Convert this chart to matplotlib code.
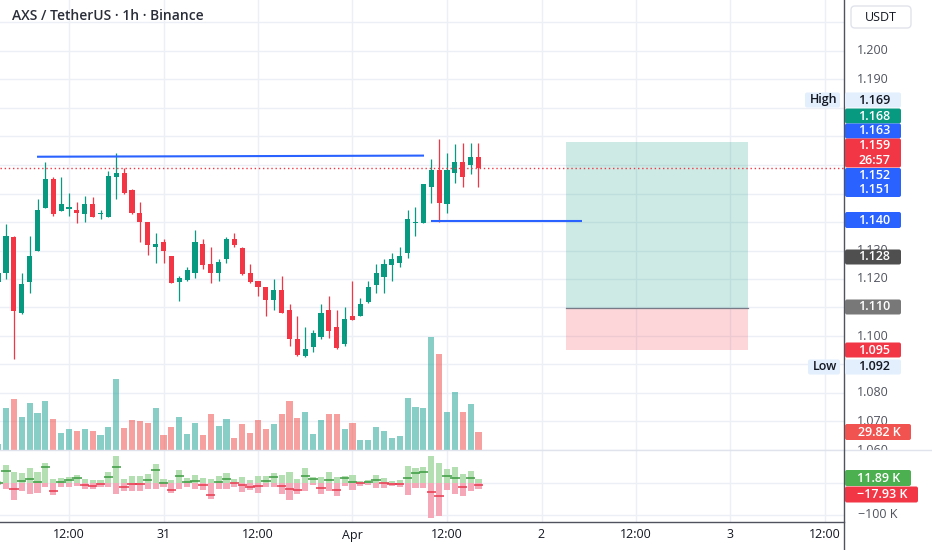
import matplotlib
matplotlib.use("Agg")
import matplotlib.pyplot as plt
import matplotlib.patches as mpatches
from matplotlib.transforms import blended_transform_factory
import numpy as np

plt.rcParams['font.family'] = ['Open Sans', 'DejaVu Sans']

# ---------------- data ----------------
# candle time in hours relative to 30 Mar 12:00 (1h candles)
hours = list(range(-9, 53))
opens = [1.1191, 1.1220, 1.1348, 1.1080, 1.1191, 1.1299, 1.1450, 1.1550, 1.1439, 1.1447,
         1.1442, 1.1428, 1.1462, 1.1428, 1.1419, 1.1557, 1.1571, 1.1512, 1.1431, 1.1399,
         1.1311, 1.1329, 1.1280, 1.1191, 1.1197, 1.1220, 1.1323, 1.1253, 1.1220, 1.1270,
         1.1340, 1.1310, 1.1220, 1.1193, 1.1172, 1.1126, 1.1161, 1.1091, 1.0989, 1.0930,
         1.0960, 1.0995, 1.1091, 1.1031, 1.0972, 1.1070, 1.1070, 1.1120, 1.1179, 1.1208,
         1.1249, 1.1257, 1.1290, 1.1398, 1.1398, 1.1522, 1.1582, 1.1463, 1.1571, 1.1609,
         1.1600, 1.1629]
highs = [1.1228, 1.1393, 1.1351, 1.1222, 1.1351, 1.1480, 1.1609, 1.1559, 1.1559, 1.1501,
         1.1469, 1.1491, 1.1489, 1.1442, 1.1580, 1.1641, 1.1588, 1.1516, 1.1469, 1.1400,
         1.1360, 1.1340, 1.1281, 1.1211, 1.1243, 1.1372, 1.1340, 1.1311, 1.1270, 1.1348,
         1.1360, 1.1311, 1.1253, 1.1194, 1.1173, 1.1200, 1.1211, 1.1112, 1.1071, 1.1031,
         1.1021, 1.1112, 1.1140, 1.1091, 1.1103, 1.1193, 1.1132, 1.1193, 1.1252, 1.1270,
         1.1290, 1.1311, 1.1442, 1.1452, 1.1532, 1.1620, 1.1690, 1.1641, 1.1673, 1.1678,
         1.1678, 1.1678]
lows = [1.1186, 1.1199, 1.0919, 1.1078, 1.1152, 1.1298, 1.1449, 1.1421, 1.1438, 1.1421,
        1.1395, 1.1401, 1.1418, 1.1412, 1.1418, 1.1482, 1.1500, 1.1428, 1.1331, 1.1284,
        1.1255, 1.1255, 1.1185, 1.1124, 1.1194, 1.1202, 1.1234, 1.1185, 1.1194, 1.1255,
        1.1313, 1.1214, 1.1185, 1.1140, 1.1071, 1.1091, 1.1079, 1.0965, 1.0931, 1.0927,
        1.0943, 1.0989, 1.0992, 1.0953, 1.0965, 1.1055, 1.1069, 1.1115, 1.1150, 1.1152,
        1.1194, 1.1243, 1.1273, 1.1352, 1.1397, 1.1466, 1.1401, 1.1433, 1.1536, 1.1524,
        1.1568, 1.1524]
closes = [1.1220, 1.1351, 1.1089, 1.1182, 1.1281, 1.1442, 1.1550, 1.1428, 1.1462, 1.1454,
          1.1431, 1.1462, 1.1419, 1.1433, 1.1561, 1.1571, 1.1501, 1.1431, 1.1399, 1.1319,
          1.1323, 1.1299, 1.1187, 1.1202, 1.1232, 1.1331, 1.1249, 1.1220, 1.1259, 1.1340,
          1.1319, 1.1218, 1.1191, 1.1171, 1.1126, 1.1161, 1.1080, 1.0988, 1.0933, 1.0953,
          1.1012, 1.1082, 1.1019, 1.0957, 1.1059, 1.1056, 1.1112, 1.1173, 1.1220, 1.1252,
          1.1270, 1.1281, 1.1409, 1.1401, 1.1532, 1.1582, 1.1468, 1.1582, 1.1609, 1.1559,
          1.1629, 1.1590]
volume_k = [10.1, 70.2, 86.5, 55.1, 78.7, 61.8, 82.1, 51.7, 28.1, 34.9,
            31.5, 34.9, 31.5, 24.8, 38.2, 119.1, 36.6, 50.6, 48.4, 45.0,
            71.3, 24.8, 38.2, 55.1, 27.0, 45.0, 24.8, 60.2, 39.9, 51.7,
            19.7, 43.3, 28.1, 50.6, 35.4, 43.3, 60.2, 82.6, 53.4, 63.5,
            26.5, 50.6, 60.2, 60.2, 35.4, 45.0, 16.9, 16.9, 39.3, 32.0,
            19.7, 23.6, 88.1, 73.0, 70.3, 189.9, 161.3, 64.5, 97.2, 63.5,
            77.0, 29.82]
buy_k = [5.0, 57.9, 35.8, 31.6, 47.4, 33.7, 63.2, 12.6, 15.8, 20.0,
         25.3, 12.6, 9.5, 9.5, 33.7, 84.3, 12.6, 22.1, 22.1, 28.4,
         60.0, 12.6, 9.5, 41.1, 15.8, 25.3, 16.0, 12.6, 22.0, 30.5,
         12.6, 20.0, 9.5, 23.2, 21.1, 31.6, 25.0, 33.7, 12.6, 46.3,
         17.9, 17.9, 33.7, 17.9, 23.2, 25.3, 7.4, 9.5, 25.3, 15.8,
         7.4, 10.5, 54.8, 47.4, 51.6, 84.3, 63.2, 44.2, 51.6, 28.4,
         39.0, 11.89]
sell_k = [5.0, 19.0, 53.7, 26.3, 34.8, 31.6, 13.7, 37.9, 13.7, 11.6,
          8.4, 19.0, 19.0, 13.7, 13.7, 34.8, 24.2, 26.3, 26.3, 19.0,
          19.0, 11.6, 31.6, 19.0, 13.7, 19.0, 23.2, 50.6, 18.0, 19.0,
          13.0, 27.4, 22.1, 31.6, 13.7, 13.7, 36.0, 52.7, 34.8, 24.2,
          6.3, 34.8, 24.2, 40.0, 8.4, 21.1, 8.4, 6.3, 15.8, 16.9,
          10.5, 13.7, 37.9, 16.9, 16.9, 111.7, 105.3, 22.1, 34.8, 40.0,
          24.2, 17.93]

# drawings
resistance_h = [-4.06, 45.08]
resistance_p = [1.1629, 1.1633]
support_h = [46.0, 65.1]
support_p = [1.1405, 1.1405]
position_h = [63.1, 86.2]
target_price, entry_price, stop_price = 1.168, 1.110, 1.095
last_price = 1.159

time_ticks_h = [0, 12, 24, 36, 48, 60, 72, 84, 96]
time_labels = ['12:00', '31', '12:00', 'Apr', '12:00', '2', '12:00', '3', '12:00']
grid_prices = [1.06, 1.07, 1.08, 1.09, 1.10, 1.11, 1.12, 1.13, 1.14, 1.15,
               1.16, 1.17, 1.18, 1.19, 1.20, 1.21]
# price scale labels not hidden behind the coloured price tags
price_tick_labels = [1.06, 1.07, 1.08, 1.10, 1.12, 1.13, 1.19, 1.20]

# ---------------- layout ----------------
W, H = 932, 550
PX_PER_H = 7.875
X0_PIX = 69.0
PLOT_R = 844
MAIN_B = 450
LOW_B = 522
xlim = (-X0_PIX / PX_PER_H, (PLOT_R - X0_PIX) / PX_PER_H)
p_ylim = (1.2 - (MAIN_B - 51) / 2850.0, 1.2 + 51 / 2850.0)

GREEN = '#089981'
RED = '#f23645'
GRID = '#eceff5'
TXT = '#131722'

fig = plt.figure(figsize=(W / 100, H / 100), dpi=100)
fig.patch.set_facecolor('white')

def frac(x0, y0, x1, y1):
    return [x0 / W, 1 - y1 / H, (x1 - x0) / W, (y1 - y0) / H]

# volume axes (bottom layer)
axv = fig.add_axes(frac(0, 0, PLOT_R, MAIN_B))
axv.set_xlim(*xlim)
axv.set_ylim(0, MAIN_B * 1.685)
axv.axis('off')
axv.set_zorder(1)

# price axes
ax = fig.add_axes(frac(0, 0, PLOT_R, MAIN_B))
ax.set_xlim(*xlim)
ax.set_ylim(*p_ylim)
ax.axis('off')
ax.patch.set_visible(False)
ax.set_zorder(2)

for p in grid_prices:
    axv.axhline((p - p_ylim[0]) / (p_ylim[1] - p_ylim[0]) * MAIN_B * 1.685, color=GRID, lw=1, zorder=0)
for t in time_ticks_h:
    axv.axvline(t, color=GRID, lw=1, zorder=0)

up = [c >= o for o, c in zip(opens, closes)]
col = [GREEN if u else RED for u in up]

# volume
vcol = ['#26a69a' if u else '#ef5350' for u in up]
axv.bar(hours, volume_k, width=0.78, color=vcol, alpha=0.55, linewidth=0, zorder=2)

# candles
ax.vlines(hours, lows, highs, colors=col, lw=0.9, zorder=3)
body_lo = [min(o, c) for o, c in zip(opens, closes)]
body_h = [max(abs(c - o), 0.0003) for o, c in zip(opens, closes)]
ax.bar(hours, body_h, bottom=body_lo, width=0.64, color=col, linewidth=0, zorder=4)

# current price dotted line
ax.axhline(last_price, color=RED, lw=1, linestyle=(0, (1, 2)), zorder=5)

# long position
ax.add_patch(mpatches.Rectangle((position_h[0], entry_price), position_h[1] - position_h[0],
                                target_price - entry_price, facecolor=(8/255, 153/255, 129/255, 0.2),
                                edgecolor='none', zorder=2))
ax.add_patch(mpatches.Rectangle((position_h[0], stop_price), position_h[1] - position_h[0],
                                entry_price - stop_price, facecolor=(242/255, 54/255, 69/255, 0.2),
                                edgecolor='none', zorder=2))
ax.plot(position_h, [entry_price, entry_price], color='#787b86', lw=0.9, zorder=3)

# trend lines
ax.plot(resistance_h, resistance_p, color='#2962ff', lw=1.5, zorder=6, solid_capstyle='butt')
ax.plot(support_h, support_p, color='#2962ff', lw=1.5, zorder=6, solid_capstyle='butt')

# lower pane (buy / sell / delta)
axl = fig.add_axes(frac(0, MAIN_B, PLOT_R, LOW_B))
axl.set_xlim(*xlim)
axl.set_ylim(-39 * 3.16, 33 * 3.16)
axl.axis('off')
for t in time_ticks_h:
    axl.axvline(t, color=GRID, lw=1, zorder=0)
axl.axhline(0, color=GRID, lw=1, zorder=0)
axl.axhline(-100, color=GRID, lw=1, zorder=0)
axl.bar(hours, buy_k, width=0.78, color='#b3dfb3', linewidth=0, zorder=2)
axl.bar(hours, [-s for s in sell_k], width=0.78, color='#f5a8b8', linewidth=0, zorder=2)
delta = [b - s for b, s in zip(buy_k, sell_k)]
dcol = ['#3d9a41' if d >= 0 else '#e8384c' for d in delta]
axl.hlines(delta, [h - 0.6 for h in hours], [h + 0.6 for h in hours], colors=dcol, lw=1.1, zorder=3)

# right price axis tick labels (clipped to price pane)
axr = fig.add_axes(frac(PLOT_R, 0, W, MAIN_B))
axr.set_xlim(0, W - PLOT_R)
axr.set_ylim(*p_ylim)
axr.axis('off')
for p in price_tick_labels:
    axr.text(13, p, f'{p:.3f}', fontsize=9, color='#50535e', va='center', ha='left', clip_on=True)

# overlay in pixel coordinates
ov = fig.add_axes([0, 0, 1, 1])
ov.set_xlim(0, W)
ov.set_ylim(H, 0)
ov.axis('off')
ov.set_zorder(10)

# separators / axis lines
ov.plot([0, W], [MAIN_B, MAIN_B], color='#e0e3eb', lw=1)
ov.plot([0, PLOT_R], [LOW_B, LOW_B], color='#50535e', lw=1)
ov.plot([PLOT_R, PLOT_R], [0, H], color='#50535e', lw=1)

# header
ov.text(12, 16, 'AXS / TetherUS · 1h · Binance', fontsize=10, color='#2a2e39',
        fontweight='semibold', va='center', ha='left')

# USDT box
ov.add_patch(mpatches.FancyBboxPatch((851, 6), 60, 22, boxstyle='round,pad=0,rounding_size=4',
                                     facecolor='white', edgecolor='#e0e3eb', lw=1))
ov.text(881, 17.5, 'USDT', fontsize=9, color=TXT, ha='center', va='center')

# time labels
tr = blended_transform_factory(ax.transData, ov.transData)
for t, lab in zip(time_ticks_h, time_labels):
    ax.text(t, 535, lab, transform=tr, fontsize=9, color=TXT, ha='center', va='center', zorder=20)

def label(x0, x1, yc, h, fc, lines, tc='white', weight='semibold'):
    ov.add_patch(mpatches.FancyBboxPatch((x0, yc - h / 2), x1 - x0, h,
                                         boxstyle='round,pad=0,rounding_size=2',
                                         facecolor=fc, edgecolor='none', zorder=11))
    n = len(lines)
    for i, s in enumerate(lines):
        ov.text((x0 + x1) / 2 + 1, yc + (i - (n - 1) / 2) * 14.5, s, fontsize=9, color=tc,
                ha='center', va='center', fontweight=weight, zorder=12)

LB = '#e3effd'
label(805, 840, 100, 15, LB, ['High'], TXT)
label(845, 901, 100, 15, LB, ['1.169'], TXT)
label(845, 901, 116, 15, GREEN, ['1.168'])
label(845, 901, 131, 15, '#2962ff', ['1.163'])
label(845, 901, 153, 29, RED, ['1.159', '26:57'])
label(845, 901, 182.5, 29, '#2962ff', ['1.152', '1.151'])
label(845, 901, 220, 16, '#2962ff', ['1.140'])
label(845, 901, 257, 15, '#4f4f4f', ['1.128'])
label(845, 901, 307, 15, '#787878', ['1.110'])
label(845, 901, 350, 15, RED, ['1.095'])
label(808, 840, 367, 15, LB, ['Low'], TXT)
label(845, 901, 367, 15, LB, ['1.092'], TXT)
label(845, 911, 432, 16, '#f05350', ['29.82 K'])
label(845, 911, 478, 16, '#4caf50', ['11.89 K'])
label(845, 918, 494.5, 16, RED, ['\u221217.93 K'])
ov.text(878, 514, '\u2212100 K', fontsize=9, color='#50535e', ha='center', va='center')

fig.savefig('out.png', dpi=100)
